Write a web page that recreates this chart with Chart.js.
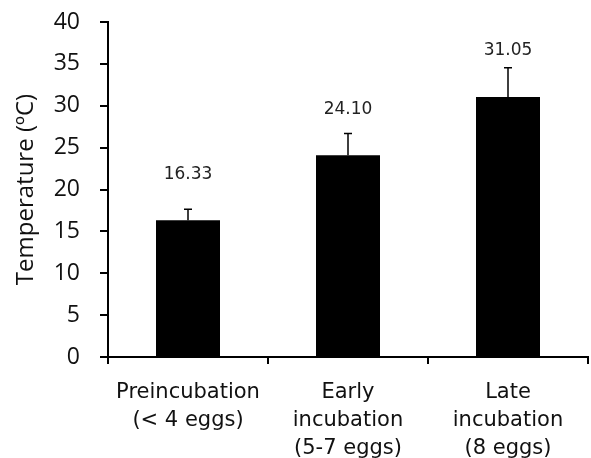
<!DOCTYPE html>
<html>
<head>
<meta charset="utf-8">
<script src="https://cdn.jsdelivr.net/npm/chart.js@4"></script>
<style>
    html, body { margin: 0; padding: 0; background: #fff; }
    #wrap { width: 591px; height: 458px; position: relative; }
</style>
</head>
<body>
<div id="wrap"><canvas id="tempChart"></canvas></div>
<script>
const stages = [
    ['Preincubation', '(< 4 eggs)'],
    ['Early', 'incubation', '(5-7 eggs)'],
    ['Late', 'incubation', '(8 eggs)']
];
const meanTemps = [16.33, 24.10, 31.05];
const errTemps = [1.3, 2.6, 3.5];
const valueLabels = ['16.33', '24.10', '31.05'];
const yTicks = [0, 5, 10, 15, 20, 25, 30, 35, 40];

// error bars (upper only) + value labels above them
const errorBarPlugin = {
    id: 'errorBars',
    afterDatasetsDraw(chart) {
        const ctx = chart.ctx;
        const y = chart.scales.y;
        const meta = chart.getDatasetMeta(0);
        ctx.save();
        meta.data.forEach((bar, i) => {
            const top = y.getPixelForValue(meanTemps[i]);
            const errTop = y.getPixelForValue(meanTemps[i] + errTemps[i]);
            ctx.strokeStyle = '#000';
            ctx.lineWidth = 1.5;
            ctx.beginPath();
            ctx.moveTo(bar.x, top);
            ctx.lineTo(bar.x, errTop);
            ctx.moveTo(bar.x - 4, errTop);
            ctx.lineTo(bar.x + 4, errTop);
            ctx.stroke();

            ctx.fillStyle = '#222';
            ctx.font = '17px "DejaVu Sans"';
            ctx.textAlign = 'center';
            ctx.textBaseline = 'middle';
            ctx.fillText(valueLabels[i], bar.x, y.getPixelForValue(meanTemps[i] + 5.5));
        });
        ctx.restore();
    }
};

const ctx = document.getElementById('tempChart').getContext('2d');
new Chart(ctx, {
    type: 'bar',
    data: {
        labels: stages,
        datasets: [{
            data: meanTemps,
            backgroundColor: '#000',
            borderWidth: 0,
            barPercentage: 0.4,
            categoryPercentage: 1.0
        }]
    },
    options: {
        responsive: true,
        maintainAspectRatio: false,
        animation: false,
        layout: { padding: { top: 22, right: 3, left: 0, bottom: 0 } },
        plugins: {
            legend: { display: false },
            tooltip: { enabled: false }
        },
        scales: {
            y: {
                min: 0,
                max: 40,
                afterBuildTicks: axis => { axis.ticks = yTicks.map(v => ({ value: v })); },
                afterFit: axis => {
                    axis.width = 108;
                    axis.paddingTop = 0;
                    axis.paddingBottom = 0;
                },
                border: { display: true, color: '#000', width: 2 },
                grid: { drawOnChartArea: false, drawTicks: true, tickLength: 8, color: '#000', lineWidth: 2 },
                ticks: {
                    color: '#111',
                    padding: 20,
                    font: { family: '"Open Sans"', size: 23 }
                },
                title: {
                    display: true,
                    text: 'Temperature (ºC)',
                    color: '#111',
                    padding: { top: 12, bottom: 0 },
                    font: { family: '"Open Sans"', size: 24 }
                }
            },
            x: {
                afterFit: axis => { axis.height = 101; },
                border: { display: true, color: '#000', width: 2 },
                grid: { drawOnChartArea: false, drawTicks: true, tickLength: 7, color: '#000', lineWidth: 2 },
                ticks: {
                    color: '#111',
                    padding: 15,
                    maxRotation: 0,
                    autoSkip: false,
                    font: { family: '"DejaVu Sans"', size: 21, lineHeight: 1.32 }
                }
            }
        }
    },
    plugins: [errorBarPlugin]
});
</script>
</body>
</html>
